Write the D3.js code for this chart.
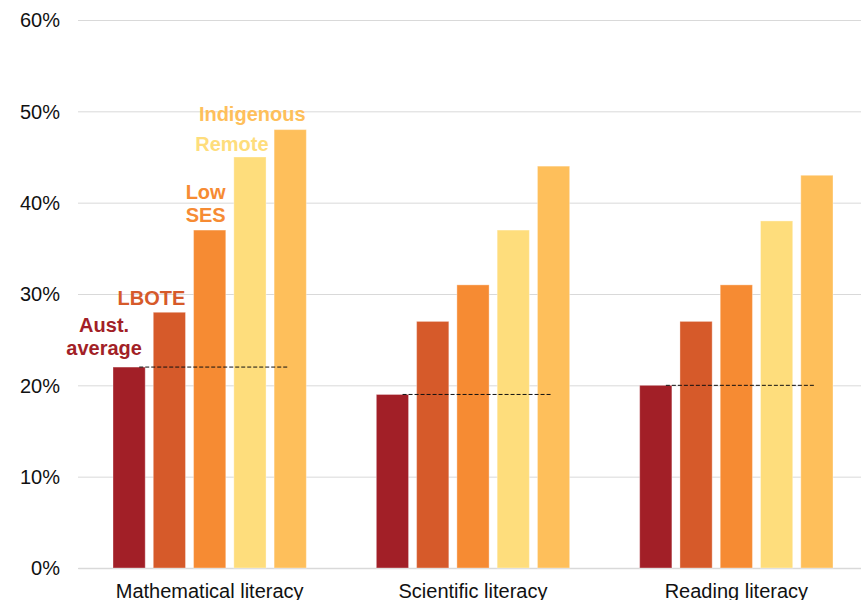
<!DOCTYPE html>
<html>
<head>
<meta charset="utf-8">
<script src="https://cdn.jsdelivr.net/npm/d3@7/dist/d3.min.js"></script>
<style>
  html, body { margin: 0; padding: 0; background: #fff; }
  svg { display: block; font-family: "Liberation Sans", Arial, sans-serif; }
</style>
</head>
<body>
<svg id="chart" width="861" height="600"></svg>
<script>
// Share of students below the proficient standard, by literacy domain and group
const domains = ["Mathematical literacy", "Scientific literacy", "Reading literacy"];
const groups = ["Aust. average", "LBOTE", "Low SES", "Remote", "Indigenous"];
const mathValues = [22, 28, 37, 45, 48];
const scienceValues = [19, 27, 31, 37, 44];
const readingValues = [20, 27, 31, 38, 43];
const yTicks = [0, 10, 20, 30, 40, 50, 60];
const groupColors = ["#a21f27", "#d65a2a", "#f68b33", "#fedd7c", "#febf5b"];
const labelColors = ["#a21f27", "#d65a2a", "#f68b33", "#fedd7c", "#febf5b"];

const seriesByDomain = [mathValues, scienceValues, readingValues];

const svg = d3.select("#chart");
const margin = { top: 20, left: 78, bottom: 32 };
const plotRight = 868;
const height = 600;

const y = d3.scaleLinear().domain([0, 60]).range([height - margin.bottom, margin.top]);
const x0 = d3.scaleBand().domain(domains).range([margin.left, plotRight]).paddingInner(0).paddingOuter(0);
const x1 = d3.scaleBand().domain(groups).range([35, x0.bandwidth() - 35]).paddingInner(0.2).paddingOuter(0);

// Horizontal gridlines and percentage labels
const yAxis = d3.axisLeft(y).tickValues(yTicks).tickFormat(d => d + "%").tickSize(-(plotRight - margin.left)).tickPadding(18);
const gy = svg.append("g").attr("transform", `translate(${margin.left},0)`).call(yAxis);
gy.select(".domain").remove();
gy.selectAll(".tick line").attr("stroke", "#d9d9d9").attr("stroke-width", 1);
gy.selectAll(".tick text").attr("fill", "#111").style("font-size", "20px").attr("dy", "0.34em");

// Category axis along the baseline
const xAxis = d3.axisBottom(x0).tickSize(0).tickPadding(16);
const gx = svg.append("g").attr("transform", `translate(0,${y(0)})`).call(xAxis);
gx.select(".domain").attr("stroke", "#d9d9d9").attr("stroke-width", 1.5);
gx.selectAll(".tick text").attr("fill", "#111").style("font-size", "20px").attr("dy", "0.71em");

// Bars
const domainG = svg.append("g").selectAll("g")
  .data(domains)
  .join("g")
  .attr("transform", d => `translate(${x0(d)},0)`);

domainG.selectAll("rect")
  .data((d, i) => groups.map((g, j) => ({ group: g, value: seriesByDomain[i][j], idx: j })))
  .join("rect")
  .attr("x", d => x1(d.group))
  .attr("y", d => y(d.value))
  .attr("width", x1.bandwidth())
  .attr("height", d => y(0) - y(d.value))
  .attr("fill", d => groupColors[d.idx])
  .attr("stroke", "#ffffff")
  .attr("stroke-opacity", 0.35)
  .attr("stroke-width", 1);

// Dashed reference at the Australian average for each domain
domainG.append("line")
  .attr("x1", x1(groups[0]) + x1.bandwidth() - 6)
  .attr("x2", x1(groups[4]) + x1.bandwidth() / 2 - 2)
  .attr("y1", (d, i) => y(seriesByDomain[i][0]))
  .attr("y2", (d, i) => y(seriesByDomain[i][0]))
  .attr("stroke", "#111")
  .attr("stroke-width", 1)
  .attr("stroke-dasharray", "4,2");

// Group labels above the mathematical literacy bars
const labelLines = [["Aust.", "average"], ["LBOTE"], ["Low", "SES"], ["Remote"], ["Indigenous"]];
const labelDx = [-25, -18, -4, -18, -38];
const labelGap = [12, 7, 8, 6, 9];
const mathG = svg.append("g").attr("transform", `translate(${x0(domains[0])},0)`);
groups.forEach((g, j) => {
  const cx = x1(g) + x1.bandwidth() / 2 + labelDx[j];
  const baseY = y(mathValues[j]) - labelGap[j];
  const lines = labelLines[j];
  const t = mathG.append("text")
    .attr("text-anchor", "middle")
    .attr("fill", labelColors[j])
    .style("font-size", "20px")
    .style("font-weight", "bold");
  lines.forEach((ln, k) => {
    t.append("tspan")
      .attr("x", cx)
      .attr("y", baseY - (lines.length - 1 - k) * 23.5)
      .text(ln);
  });
});
</script>
</body>
</html>
